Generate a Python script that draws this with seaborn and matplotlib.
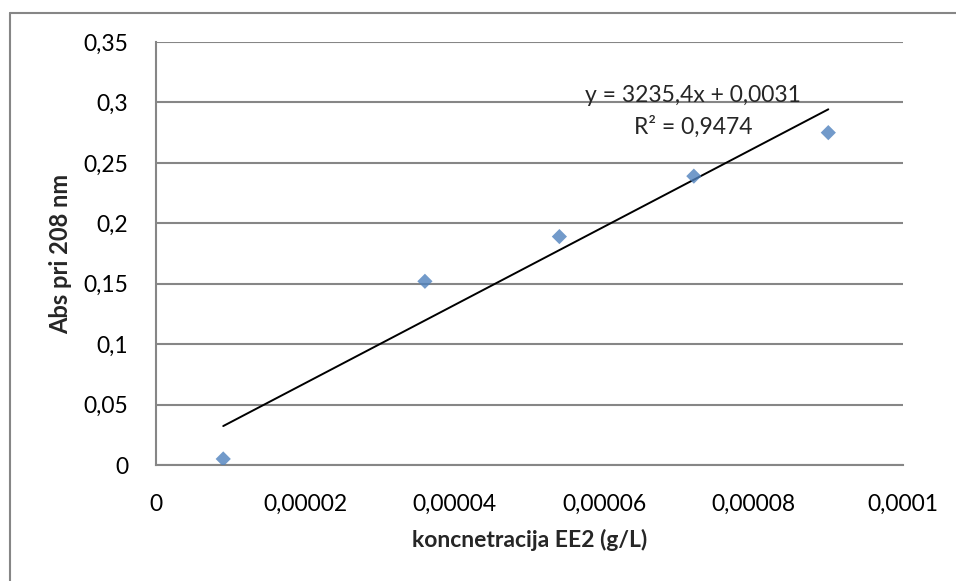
import numpy as np
import pandas as pd
import matplotlib
matplotlib.use('Agg')
import matplotlib.pyplot as plt
from matplotlib.lines import Line2D
import seaborn as sns

# data
konc = [0.000009, 0.000036, 0.000054, 0.000072, 0.00009]
absorb = [0.005, 0.152, 0.189, 0.239, 0.275]
xticks = [0, 0.00002, 0.00004, 0.00006, 0.00008, 0.0001]
xtick_labels = ['0', '0,00002', '0,00004', '0,00006', '0,00008', '0,0001']
yticks = [0, 0.05, 0.1, 0.15, 0.2, 0.25, 0.3, 0.35]
ytick_labels = ['0', '0,05', '0,1', '0,15', '0,2', '0,25', '0,3', '0,35']
eq_text = 'y = 3235,4x + 0,0031'
r2_text = 'R² = 0,9474'

df = pd.DataFrame({'konc': konc, 'abs': absorb})

sns.set_style('white')
plt.rcParams['font.family'] = ['Lato', 'DejaVu Sans']

fig = plt.figure(figsize=(9.56, 5.81), dpi=100)
ax = fig.add_axes([156/956, 116/581, 747/956, 423/581])

grey = '#868686'
fs = 16.5
sns.regplot(data=df, x='konc', y='abs', ax=ax, ci=None, truncate=True,
            marker='D',
            scatter_kws={'s': 60, 'color': '#4F81BD', 'edgecolor': 'none', 'zorder': 3},
            line_kws={'color': 'black', 'lw': 1.4, 'zorder': 2})

ax.set_xlim(0, 0.0001)
ax.set_ylim(0, 0.35)
ax.set_xticks(xticks, xtick_labels)
ax.set_yticks(yticks, ytick_labels)
ax.tick_params(axis='both', length=0, labelsize=fs, colors='black')
ax.tick_params(axis='x', pad=21)
ax.tick_params(axis='y', pad=20)
ax.yaxis.grid(True, color=grey, lw=1.5)
ax.set_axisbelow(True)

for s in ['top', 'right']:
    ax.spines[s].set_visible(False)
for s in ['left', 'bottom']:
    ax.spines[s].set_color(grey)
    ax.spines[s].set_linewidth(1.5)

ax.set_xlabel('koncnetracija EE2 (g/L)', fontsize=fs, fontweight='bold', labelpad=10)
ax.set_ylabel('Abs pri 208 nm', fontsize=17, fontweight='bold', labelpad=8)

ax.text(0.0000719, 0.306, eq_text, ha='center', va='center', fontsize=fs)
ax.text(0.0000719, 0.2797, r2_text, ha='center', va='center', fontsize=fs)

# outer chart border (only top and left visible in the crop)
fig.add_artist(Line2D([9.5/956, 9.5/956], [0, 1 - 13/581], color=grey, lw=1.5))
fig.add_artist(Line2D([9.5/956, 1], [1 - 13/581, 1 - 13/581], color=grey, lw=1.5))

plt.savefig('out.png', dpi=100)
